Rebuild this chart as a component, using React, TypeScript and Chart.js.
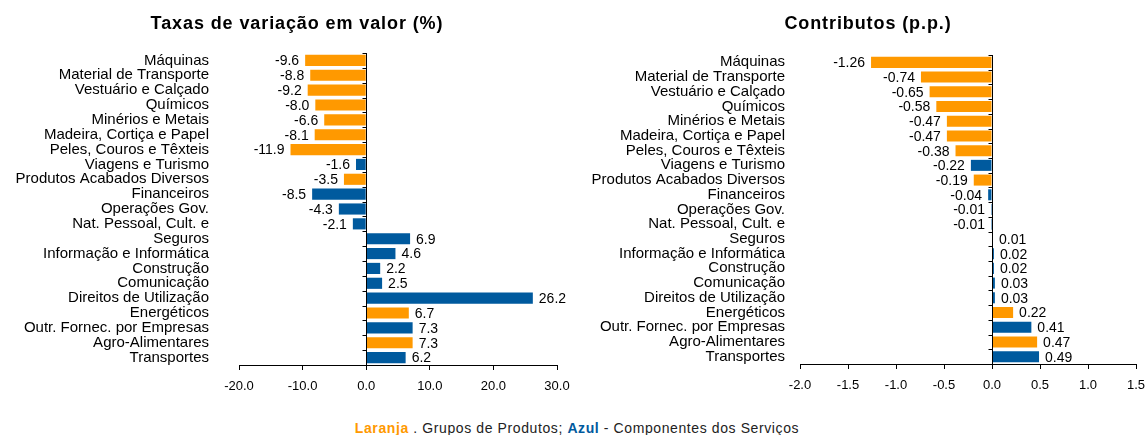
import React, { useEffect, useRef } from "react";
import { Chart, registerables } from "chart.js";

Chart.register(...registerables);

const categories = [
  "Máquinas",
  "Material de Transporte",
  "Vestuário e Calçado",
  "Químicos",
  "Minérios e Metais",
  "Madeira, Cortiça e Papel",
  "Peles, Couros e Têxteis",
  "Viagens e Turismo",
  "Produtos Acabados Diversos",
  "Financeiros",
  "Operações Gov.",
  "Nat. Pessoal, Cult. e",
  "Seguros",
  "Informação e Informática",
  "Construção",
  "Comunicação",
  "Direitos de Utilização",
  "Energéticos",
  "Outr. Fornec. por Empresas",
  "Agro-Alimentares",
  "Transportes",
];

// P = Grupos de Produtos (laranja), S = Componentes dos Serviços (azul)
const groups = [
  "P", "P", "P", "P", "P", "P", "P", "S", "P", "S", "S",
  "S", "S", "S", "S", "S", "S", "P", "S", "P", "S",
];

const taxas = [
  -9.6, -8.8, -9.2, -8.0, -6.6, -8.1, -11.9, -1.6, -3.5, -8.5, -4.3,
  -2.1, 6.9, 4.6, 2.2, 2.5, 26.2, 6.7, 7.3, 7.3, 6.2,
];

const contributos = [
  -1.26, -0.74, -0.65, -0.58, -0.47, -0.47, -0.38, -0.22, -0.19, -0.04, -0.01,
  -0.01, 0.01, 0.02, 0.02, 0.03, 0.03, 0.22, 0.41, 0.47, 0.49,
];

const taxasTicks = [-20, -10, 0, 10, 20, 30];
const contribTicks = [-2.0, -1.5, -1.0, -0.5, 0.0, 0.5, 1.0, 1.5];

const titles = ["Taxas de variação em valor (%)", "Contributos (p.p.)"];

const ORANGE = "#FF9900";
const BLUE = "#005A9E";
const FONT = '"Liberation Sans", Arial, sans-serif';

const valueLabels = {
  id: "valueLabels",
  afterDatasetsDraw(chart: any, _args: any, opts: any) {
    const meta = chart.getDatasetMeta(0);
    const data = chart.data.datasets[0].data as number[];
    const ctx = chart.ctx;
    ctx.save();
    ctx.font = `14px ${FONT}`;
    ctx.fillStyle = "#000";
    ctx.textBaseline = "middle";
    meta.data.forEach((bar: any, i: number) => {
      const v = data[i];
      const txt = v.toFixed(opts.decimals);
      if (v < 0) {
        ctx.textAlign = "right";
        ctx.fillText(txt, bar.x - 6, bar.y + 1);
      } else {
        ctx.textAlign = "left";
        ctx.fillText(txt, bar.x + 6, bar.y + 1);
      }
    });
    ctx.restore();
  },
};

const zeroAxis = {
  id: "zeroAxis",
  afterDatasetsDraw(chart: any) {
    const ctx = chart.ctx;
    const x0 = Math.round(chart.scales.x.getPixelForValue(0)) + 0.5;
    const { top, bottom } = chart.chartArea;
    const n = chart.data.labels.length;
    const step = (bottom - top) / n;
    ctx.save();
    ctx.strokeStyle = "#000";
    ctx.lineWidth = 1;
    ctx.beginPath();
    ctx.moveTo(x0, top);
    ctx.lineTo(x0, bottom);
    for (let i = 0; i < n; i++) {
      const y = Math.round(top + i * step) + 0.5;
      ctx.moveTo(x0 - 4, y);
      ctx.lineTo(x0, y);
    }
    ctx.stroke();
    ctx.restore();
  },
};

function makeConfig(
  values: number[],
  tickValues: number[],
  decimals: number,
  axisWidth: number,
  tickPad: number,
  top: number,
  padRight: number,
  xHeight: number
): any {
  return {
    type: "bar",
    data: {
      labels: categories,
      datasets: [
        {
          data: values,
          backgroundColor: groups.map((g) => (g === "P" ? ORANGE : BLUE)),
          barPercentage: 0.75,
          categoryPercentage: 1,
        },
      ],
    },
    options: {
      indexAxis: "y",
      animation: false,
      responsive: false,
      maintainAspectRatio: false,
      layout: { padding: { top, right: padRight, left: 0, bottom: 0 } },
      plugins: {
        legend: { display: false },
        tooltip: { enabled: false },
        title: { display: false },
        valueLabels: { decimals },
      },
      scales: {
        x: {
          type: "linear",
          min: tickValues[0],
          max: tickValues[tickValues.length - 1],
          afterBuildTicks: (s: any) => {
            s.ticks = tickValues.map((v) => ({ value: v }));
          },
          ticks: {
            callback: (v: any) => Number(v).toFixed(1),
            font: { size: 13, family: FONT },
            color: "#000",
            padding: 9,
            maxRotation: 0,
          },
          grid: {
            drawOnChartArea: false,
            drawTicks: true,
            tickLength: 5,
            color: "#000",
          },
          border: { display: true, color: "#000" },
          afterFit: (s: any) => {
            s.height = xHeight;
            s.paddingLeft = 0;
            s.paddingRight = 0;
          },
        },
        y: {
          type: "category",
          grid: { display: false },
          border: { display: false },
          ticks: {
            autoSkip: false,
            padding: tickPad,
            font: { size: 15, family: FONT },
            color: "#000",
          },
          afterFit: (s: any) => {
            s.width = axisWidth;
            s.paddingTop = 0;
            s.paddingBottom = 0;
          },
        },
      },
    },
    plugins: [valueLabels, zeroAxis],
  };
}

function BarChart(props: {
  values: number[];
  tickValues: number[];
  decimals: number;
  width: number;
  axisWidth: number;
  tickPad: number;
  top: number;
  padRight: number;
  xHeight: number;
}) {
  const ref = useRef<HTMLCanvasElement | null>(null);
  useEffect(() => {
    if (!ref.current) return;
    const chart = new Chart(
      ref.current,
      makeConfig(
        props.values,
        props.tickValues,
        props.decimals,
        props.axisWidth,
        props.tickPad,
        props.top,
        props.padRight,
        props.xHeight
      )
    );
    return () => chart.destroy();
  }, []);
  return (
    <canvas
      ref={ref}
      width={props.width}
      height={400}
      style={{ width: props.width, height: 400, display: "block" }}
    />
  );
}

export default function App() {
  const titleStyle: React.CSSProperties = {
    position: "absolute",
    top: 14,
    fontFamily: FONT,
    fontWeight: "bold",
    fontSize: 18,
    letterSpacing: "0.9px",
    lineHeight: "18px",
    color: "#000",
    whiteSpace: "nowrap",
    transform: "translateX(-50%)",
  };
  return (
    <div
      style={{
        position: "fixed",
        left: 0,
        top: 0,
        width: 1146,
        height: 435,
        background: "#fff",
        overflow: "hidden",
      }}
    >
      <div style={{ position: "absolute", left: 0, top: 0 }}>
        <BarChart
          values={taxas}
          tickValues={taxasTicks}
          decimals={1}
          width={570}
          axisWidth={239}
          tickPad={22}
          top={53}
          padRight={13}
          xHeight={35}
        />
      </div>
      <div style={{ position: "absolute", left: 570, top: 0 }}>
        <BarChart
          values={contributos}
          tickValues={contribTicks}
          decimals={2}
          width={576}
          axisWidth={230}
          tickPad={7}
          top={55}
          padRight={10}
          xHeight={36}
        />
      </div>
      <div style={{ ...titleStyle, left: 297 }}>{titles[0]}</div>
      <div style={{ ...titleStyle, left: 868 }}>{titles[1]}</div>
      <div
        style={{
          position: "absolute",
          left: 577,
          top: 420,
          transform: "translateX(-50%)",
          fontFamily: FONT,
          fontSize: 14,
          letterSpacing: "0.6px",
          lineHeight: "16px",
          color: "#222",
          whiteSpace: "nowrap",
        }}
      >
        <span style={{ color: ORANGE, fontWeight: "bold" }}>Laranja</span>
        {" . Grupos de Produtos; "}
        <span style={{ color: BLUE, fontWeight: "bold" }}>Azul</span>
        {" - Componentes dos Serviços"}
      </div>
    </div>
  );
}
